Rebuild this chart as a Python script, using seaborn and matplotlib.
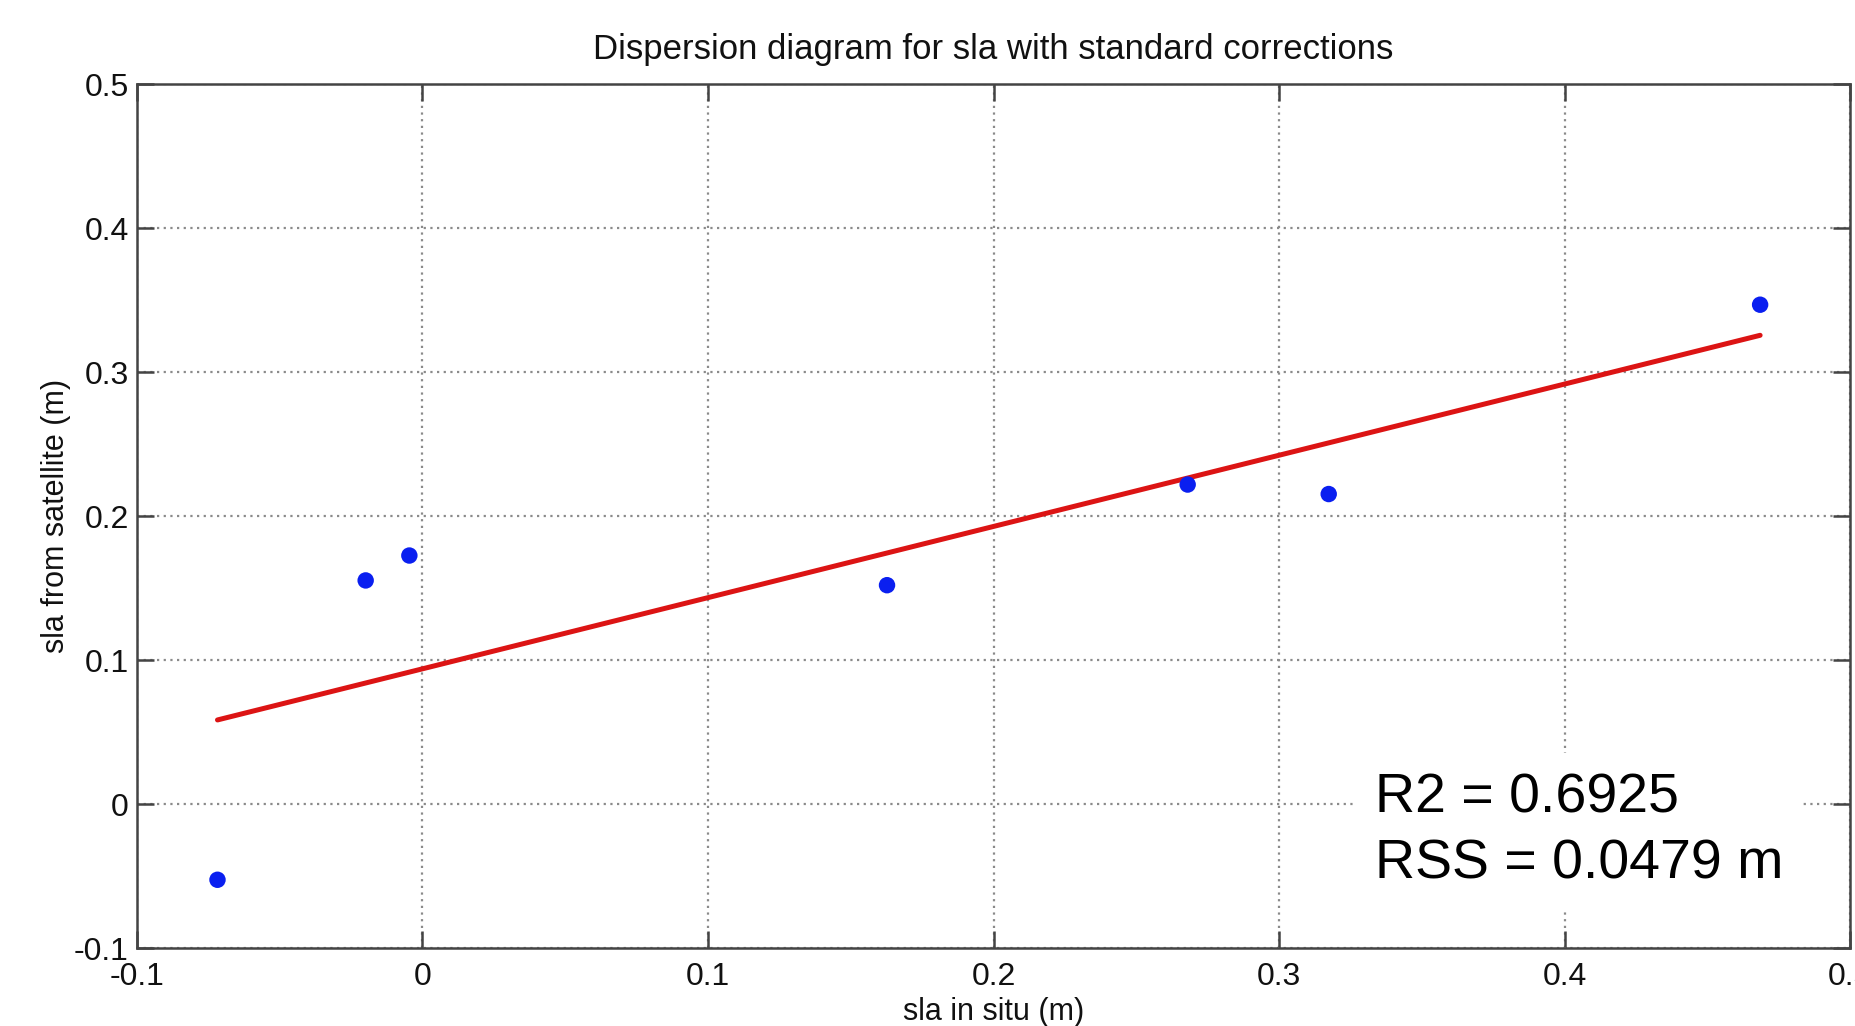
import numpy as np
import pandas as pd
import matplotlib
matplotlib.use("Agg")
import matplotlib.pyplot as plt
import seaborn as sns

# valeurs
sla_in_situ = [-0.0718, -0.0199, -0.0046, 0.1627, 0.2680, 0.3174, 0.4685]
sla_satellite = [-0.0526, 0.1553, 0.1726, 0.1520, 0.2219, 0.2153, 0.3468]
x_ticks = [-0.1, 0, 0.1, 0.2, 0.3, 0.4, 0.5]
y_ticks = [-0.1, 0, 0.1, 0.2, 0.3, 0.4, 0.5]
stats_text = "R2 = 0.6925\nRSS = 0.0479 m"

df = pd.DataFrame({"in_situ": sla_in_situ, "satellite": sla_satellite})

sns.set_theme(style="ticks")
plt.rcParams["font.family"] = ["Liberation Sans", "DejaVu Sans"]

fig = plt.figure(figsize=(18.56, 10.26), dpi=100)
ax = fig.add_axes([0.0738, 0.076, 0.9230, 0.842])

# droite de régression (moindres carrés)
sns.regplot(data=df, x="in_situ", y="satellite", ax=ax, scatter=False, ci=None,
            truncate=True, line_kws={"color": "#dc1414", "linewidth": 3.6, "zorder": 3})
sns.scatterplot(data=df, x="in_situ", y="satellite", ax=ax, color="#0a1ff0",
                s=140, edgecolor="none", zorder=4)

ax.set_xlim(-0.1, 0.5)
ax.set_ylim(-0.1, 0.5)
ax.set_xticks(x_ticks)
ax.set_yticks(y_ticks)
ax.set_xticklabels([f"{t:g}" for t in x_ticks])
ax.set_yticklabels([f"{t:g}" for t in y_ticks])
ax.grid(True, linestyle=(0, (1, 2)), color="#8a8a8a", linewidth=1.6, zorder=0)
ax.set_axisbelow(True)

for sp in ax.spines.values():
    sp.set_color("#444444")
    sp.set_linewidth(1.8)
    sp.set_visible(True)
ax.tick_params(direction="in", length=12, width=1.8, color="#444444",
               top=True, right=True, labelsize=23, labelcolor="#111111")
ax.tick_params(axis="y", pad=6)
ax.tick_params(axis="x", pad=10)

ax.set_title("Dispersion diagram for sla with standard corrections", fontsize=25,
             color="#111111", pad=18)
ax.set_xlabel("sla in situ (m)", fontsize=22, color="#111111", labelpad=4)
ax.set_ylabel("sla from satellite (m)", fontsize=22, color="#111111", labelpad=2)

ax.text(0.7227, 0.135, stats_text, transform=ax.transAxes, fontsize=40,
        va="center", ha="left", linespacing=1.35, color="black", zorder=6,
        bbox=dict(facecolor="white", edgecolor="none", pad=14))

fig.savefig("out.png", dpi=100, facecolor="white")
